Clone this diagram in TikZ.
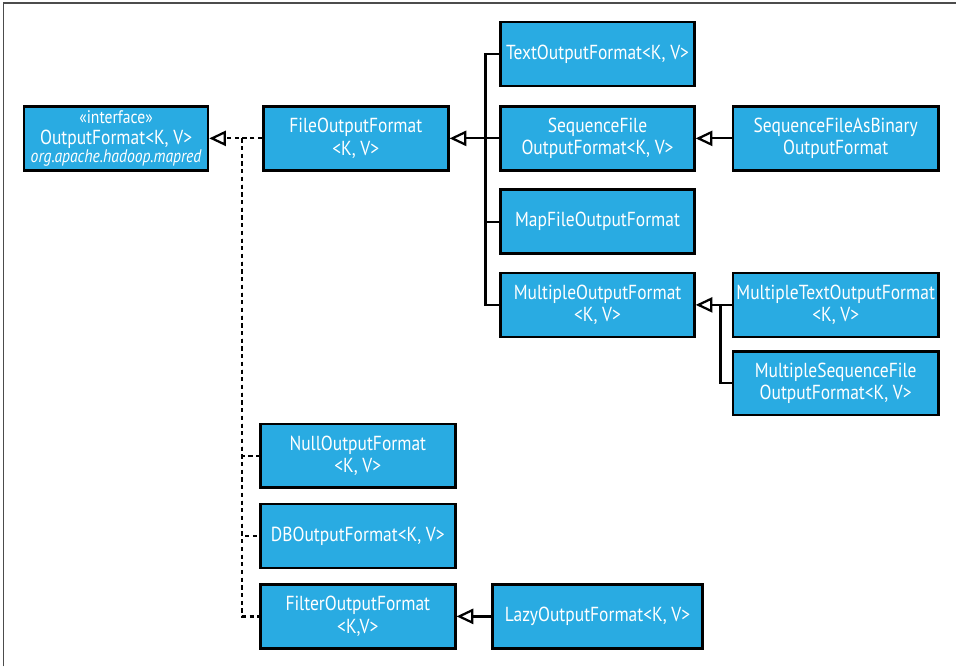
\documentclass[tikz,border=0pt]{standalone}
\usepackage{fontspec}
\setmainfont{PT Sans}[FakeStretch=0.86]
\usetikzlibrary{arrows.meta, positioning}

\definecolor{boxblue}{RGB}{41,171,226}

\begin{document}
\begin{tikzpicture}[
  node distance=0.45cm,
  box/.style={rectangle, draw=black, line width=1.8pt, fill=boxblue, text=white, minimum height=1.6cm, inner sep=1pt, align=center, font=\fontsize{14.5}{16}\selectfont},
  colbox/.style={box, minimum width=4.86cm},
  widebox/.style={box, minimum width=5.16cm},
  lowbox/.style={box, minimum width=4.89cm},
  link/.style={line width=1.6pt},
  dlink/.style={line width=1.6pt, dash pattern=on 3pt off 2.5pt},
  inh/.style={-{Triangle[open, length=0.42cm, width=0.38cm, fill=white]}}
]
\node[box, minimum width=4.61cm] (iface) {{\fontsize{13}{13}\selectfont «interface»}\\[-1pt]OutputFormat<K, V>\\[-3pt]{\fontsize{13}{13}\selectfont\itshape org.apache.hadoop.mapred}};
\node[box, minimum width=4.64cm, right=1.325cm of iface] (file) {FileOutputFormat\\<K, V>};
\node[colbox, right=1.25cm of file] (seq) {SequenceFile\\OutputFormat<K, V>};
\node[colbox, above=of seq] (text) {TextOutputFormat<K, V>};
\node[colbox, below=0.425cm of seq] (mapf) {MapFileOutputFormat};
\node[colbox, below=0.425cm of mapf] (multi) {MultipleOutputFormat\\<K, V>};
\node[widebox, right=0.9cm of seq] (seqbin) {SequenceFileAsBinary\\OutputFormat};
\node[widebox, right=0.9cm of multi] (multtext) {MultipleTextOutputFormat\\<K, V>};
\node[widebox, below=0.3cm of multtext] (multseq) {MultipleSequenceFile\\OutputFormat<K, V>};
\node[lowbox, below=6.3cm of file, xshift=0.05cm] (null) {NullOutputFormat\\<K, V>};
\node[lowbox, below=0.35cm of null] (db) {DBOutputFormat<K, V>};
\node[lowbox, below=0.35cm of db] (filter) {FilterOutputFormat\\<K,V>};
\node[box, minimum width=5.26cm, right=0.875cm of filter] (lazy) {LazyOutputFormat<K, V>};

% junction points of the trunks
\coordinate (dj) at ([xshift=0.825cm]iface.east);
\coordinate (sj) at ([xshift=-0.35cm]seq.west);
\coordinate (mj) at ([xshift=-0.275cm]multtext.west);

\draw[dlink, inh] (file) -- (iface);
\foreach \b in {null, db, filter}
  \draw[dlink] (dj) |- (\b.west);
\draw[link, inh] (seq) -- (file);
\foreach \b in {text, mapf, multi}
  \draw[link] (\b.west) -| (sj);
\draw[link, inh] (seqbin) -- (seq);
\draw[link, inh] (multtext) -- (multi);
\draw[link] (multseq.west) -| (mj);
\draw[link, inh] (lazy) -- (filter);

% page frame
\coordinate (tl) at ([xshift=-0.575cm, yshift=2.625cm]iface.north west);
\draw[gray!60!black, line width=0.8pt] ([xshift=0.09cm]tl) ++(0,-16.7cm) -- ++(0,16.64cm) -- ++(23.9cm,0);
\path[use as bounding box] (tl) rectangle ++(23.925cm,-16.7cm);
\end{tikzpicture}
\end{document}
